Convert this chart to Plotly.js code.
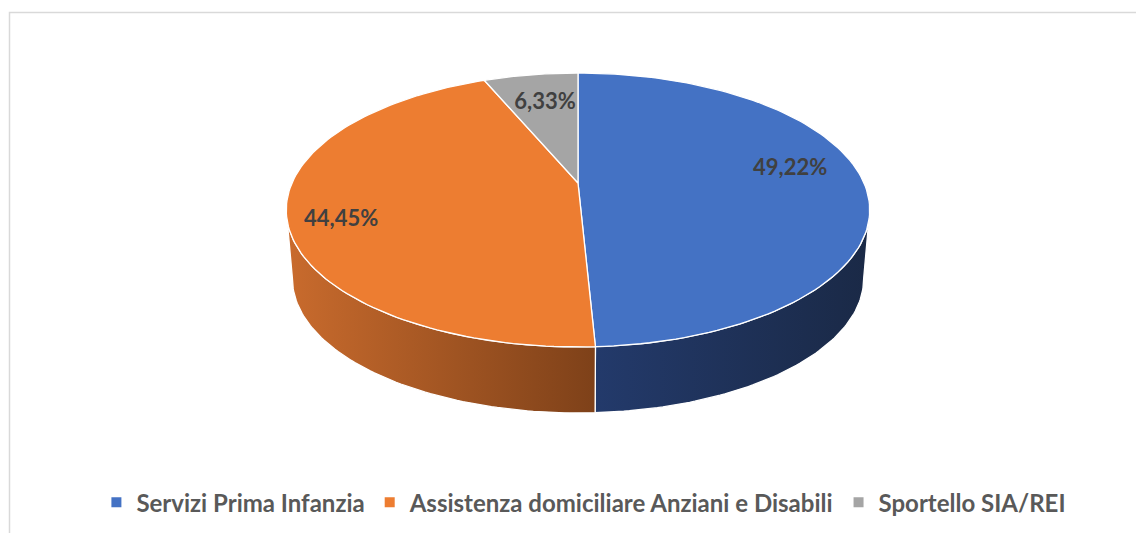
<!DOCTYPE html>
<html>
<head>
<meta charset="utf-8">
<script src="https://cdn.plot.ly/plotly-3.0.1.min.js"></script>
<style>html,body{margin:0;padding:0;background:#fff;}#chart{width:1136px;height:533px;}</style>
</head>
<body>
<div id="chart"></div>
<script>
// ---- data ----
const categories = ['Servizi Prima Infanzia', 'Assistenza domiciliare Anziani e Disabili', 'Sportello SIA/REI'];
const shares = [49.22, 44.45, 6.33];

// ---- styling ----
const topColors = ['#4472c4', '#ed7d31', '#a5a5a5'];
const sideGradients = [
  [[0, '#233a6b'], [1, '#1a2946']],
  [[0, '#c96b2d'], [1, '#7e4119']],
  [[0, '#8a8a8a'], [1, '#5a5a5a']]
];
const labelPlacement = [[0.763, -6.2], [0.83, -6.4], [0.698, 0.6]]; // [radius fraction, angle offset deg]

// ---- 3D projection (pixel-mapped axes) ----
const CX = 578, A = 183, B = -95.6, C = 0.197, E = 286;
const K = 0.979, VPX = 580, VPY = 3490;
function topPt(phi, r) {
  const u = r * Math.sin(phi), v = r * Math.cos(phi), d = 1 + C * v;
  return [CX + E * u / d, (A + B * v) / d];
}
function botPt(phi) {
  const p = topPt(phi, 1);
  return [VPX + (p[0] - VPX) * K, VPY + (p[1] - VPY) * K];
}
const total = shares.reduce((s, v) => s + v, 0);
const bounds = [];
let acc = 0;
shares.forEach(v => { const a = acc / total * 2 * Math.PI; acc += v; bounds.push([a, acc / total * 2 * Math.PI]); });

const phiR = Math.acos(-C), phiL = 2 * Math.PI - Math.acos(-C);
const traces = [];

// side walls
bounds.forEach((b, i) => {
  const a0 = Math.max(b[0], phiR), a1 = Math.min(b[1], phiL);
  if (a0 >= a1) return;
  const xs = [], ys = [], N = 80;
  for (let k = 0; k <= N; k++) { const p = topPt(a0 + (a1 - a0) * k / N, 1); xs.push(p[0]); ys.push(p[1]); }
  for (let k = N; k >= 0; k--) { const p = botPt(a0 + (a1 - a0) * k / N); xs.push(p[0]); ys.push(p[1]); }
  xs.push(xs[0]); ys.push(ys[0]);
  traces.push({
    type: 'scatter', mode: 'lines', x: xs, y: ys, fill: 'toself',
    fillgradient: {type: 'horizontal', colorscale: sideGradients[i]},
    line: {color: '#ffffff', width: 1.3}, hoverinfo: 'skip', showlegend: false
  });
});

// top faces
bounds.forEach((b, i) => {
  const c0 = topPt(0, 0);
  const xs = [c0[0]], ys = [c0[1]], N = 120;
  for (let k = 0; k <= N; k++) { const p = topPt(b[0] + (b[1] - b[0]) * k / N, 1); xs.push(p[0]); ys.push(p[1]); }
  xs.push(c0[0]); ys.push(c0[1]);
  traces.push({
    type: 'scatter', mode: 'lines', x: xs, y: ys, fill: 'toself', fillcolor: topColors[i],
    line: {color: '#ffffff', width: 1.3}, hoverinfo: 'skip', showlegend: false
  });
});

// data labels
const lx = [], ly = [], lt = [];
bounds.forEach((b, i) => {
  const mid = (b[0] + b[1]) / 2 + labelPlacement[i][1] * Math.PI / 180;
  const p = topPt(mid, labelPlacement[i][0]);
  lx.push(p[0]); ly.push(p[1]);
  lt.push(shares[i].toFixed(2).replace('.', ',') + '%');
});
traces.push({
  type: 'scatter', mode: 'text', x: lx, y: ly, text: lt, textposition: 'middle center',
  textfont: {family: 'Lato, "Open Sans", sans-serif', size: 22, color: '#404040', weight: 'bold'},
  hoverinfo: 'skip', showlegend: false
});

// legend entries
categories.forEach((c, i) => {
  traces.push({
    type: 'scatter', mode: 'markers', x: [null], y: [null], name: c,
    marker: {symbol: 'square', size: 10, color: topColors[i]}, showlegend: true
  });
});

const layout = {
  width: 1136, height: 533,
  margin: {l: 0, r: 0, t: 0, b: 0},
  paper_bgcolor: '#ffffff', plot_bgcolor: '#ffffff',
  xaxis: {range: [0, 1136], visible: false, fixedrange: true},
  yaxis: {range: [533, 0], visible: false, fixedrange: true},
  showlegend: true,
  legend: {
    orientation: 'h', x: 0.514, xanchor: 'center', y: 0.057, yanchor: 'middle',
    font: {family: 'Lato, "Open Sans", sans-serif', size: 24, color: '#595959', weight: 'bold'},
    itemclick: false, itemdoubleclick: false, bgcolor: 'rgba(0,0,0,0)'
  },
  shapes: [{
    type: 'rect', xref: 'x', yref: 'y', x0: 9.5, x1: 1145, y0: 12.5, y1: 545,
    line: {color: '#d9d9d9', width: 1.5}, layer: 'below'
  }]
};

Plotly.newPlot('chart', traces, layout, {displayModeBar: false, staticPlot: true});
</script>
</body>
</html>
